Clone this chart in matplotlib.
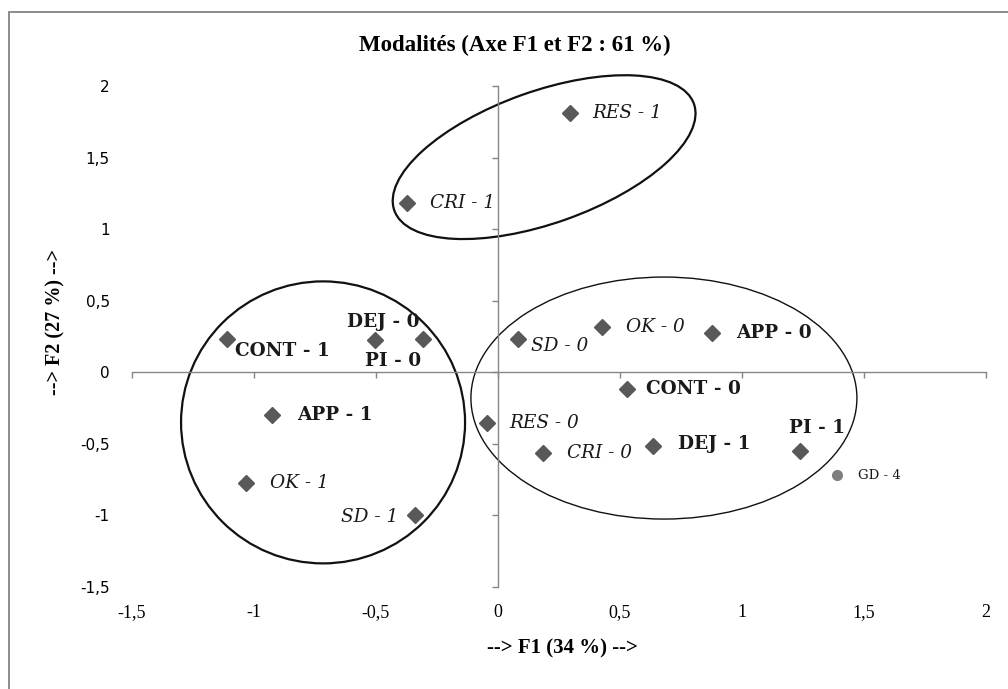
import matplotlib
matplotlib.use("Agg")
import matplotlib.pyplot as plt
from matplotlib.patches import Ellipse, Rectangle
from matplotlib.transforms import ScaledTranslation

# ---- data (ACM coordinates) ----
names = ["RES - 1", "CRI - 1", "CONT - 1", "DEJ - 0", "PI - 0", "APP - 1", "OK - 1", "SD - 1",
         "SD - 0", "OK - 0", "APP - 0", "CONT - 0", "RES - 0", "CRI - 0", "DEJ - 1", "PI - 1"]
f1 = [0.295, -0.374, -1.112, -0.504, -0.306, -0.927, -1.033, -0.340,
      0.083, 0.425, 0.878, 0.530, -0.046, 0.183, 0.634, 1.238]
f2 = [1.811, 1.182, 0.236, 0.224, 0.236, -0.301, -0.774, -1.000,
      0.236, 0.313, 0.275, -0.114, -0.355, -0.564, -0.517, -0.552]

sup_name = "GD - 4"
sup_f1 = [1.388]
sup_f2 = [-0.720]

tick_vals = [-1.5, -1, -0.5, 0, 0.5, 1, 1.5, 2]
tick_labels = ["-1,5", "-1", "-0,5", "0", "0,5", "1", "1,5", "2"]

# ---- label styling / placement (offset in px, alignment, style) ----
label_style = {
    "RES - 1": ((22, 0), "left", "italic"),
    "CRI - 1": ((23, 0), "left", "italic"),
    "CONT - 1": ((8, -12), "left", "bold"),
    "DEJ - 0": ((8, 18), "center", "bold"),
    "PI - 0": ((-30, -22), "center", "bold"),
    "APP - 1": ((25, 0), "left", "bold"),
    "OK - 1": ((24, 0), "left", "italic"),
    "SD - 1": ((-17, -2), "right", "italic"),
    "SD - 0": ((13, -7), "left", "italic"),
    "OK - 0": ((24, 0), "left", "italic"),
    "APP - 0": ((24, 0), "left", "bold"),
    "CONT - 0": ((19, 0), "left", "bold"),
    "RES - 0": ((23, 0), "left", "italic"),
    "CRI - 0": ((24, 0), "left", "italic"),
    "DEJ - 1": ((25, 2), "left", "bold"),
    "PI - 1": ((17, 23), "center", "bold"),
}

# ellipses: centre (data), width/height (inches), angle (deg), line width
groups = [((0.189, 1.503), 3.18, 1.32, 19.6, 1.6),
          ((-0.717, -0.350), 2.84, 2.82, 0, 1.6),
          ((0.680, -0.180), 3.86, 2.42, 0, 1.0)]

GRAY = "#868686"
PT = 0.72  # px -> pt at 100 dpi

fig = plt.figure(figsize=(10.08, 6.89), dpi=100)
fig.patches.append(Rectangle((9 / 1008, -0.1), 1.1, 0.1 + 1 - 12 / 689, transform=fig.transFigure,
                             fill=False, ec="#8c8c8c", lw=1.4, zorder=0))
ax = fig.add_axes([132 / 1008, 1 - 587 / 689, 854 / 1008, 501 / 689])
ax.set_xlim(-1.5, 2)
ax.set_ylim(-1.5, 2)
ax.patch.set_alpha(0)

for s in ("top", "right"):
    ax.spines[s].set_visible(False)
ax.spines["left"].set_position(("data", 0))
ax.spines["bottom"].set_position(("data", 0))
for s in ("left", "bottom"):
    ax.spines[s].set_color(GRAY)
    ax.spines[s].set_linewidth(1.0)
ax.set_xticks(tick_vals)
ax.set_yticks(tick_vals)
ax.tick_params(direction="out", length=4, width=1, color=GRAY,
               labelleft=False, labelbottom=False)

# tick labels at the frame edges (Excel "low" labels)
sx = ax.secondary_xaxis(0)
sx.set_xticks(tick_vals, tick_labels)
sx.tick_params(length=0, pad=12, labelsize=13)
for t in sx.get_xticklabels():
    t.set_family("Liberation Serif")
sx.spines["bottom"].set_visible(False)
sy = ax.secondary_yaxis(0)
sy.set_yticks(tick_vals, tick_labels)
sy.tick_params(length=0, pad=16, labelsize=11)
sy.spines["left"].set_visible(False)

ax.plot(f1, f2, "D", ms=8.5, color="#595959", mec="#595959", zorder=3)
ax.plot(sup_f1, sup_f2, "o", ms=7, color="#7f7f7f", zorder=3)

for n, x, y in zip(names, f1, f2):
    (dx, dy), ha, sty = label_style[n]
    kw = dict(fontweight="bold") if sty == "bold" else dict(fontstyle="italic")
    ax.annotate(n, (x, y), xytext=(dx * PT, dy * PT), textcoords="offset points",
                ha=ha, va="center", fontsize=13.3, family="DejaVu Serif",
                color="#1a1a1a", **kw)
ax.annotate(sup_name, (sup_f1[0], sup_f2[0]), xytext=(21 * PT, 0), textcoords="offset points",
            ha="left", va="center", fontsize=9.5, family="DejaVu Serif", color="#1a1a1a")

for (cx, cy), w, h, ang, lw in groups:
    tr = fig.dpi_scale_trans + ScaledTranslation(cx, cy, ax.transData)
    ax.add_patch(Ellipse((0, 0), w, h, angle=ang, transform=tr, fill=False,
                         ec="#111111", lw=lw, clip_on=False, zorder=2))

fig.text(515 / 1008, 1 - 45 / 689, "Modalités (Axe F1 et F2 : 61 %)", ha="center", va="center",
         fontsize=16.5, fontweight="bold", family="Liberation Serif")
fig.text(562 / 1008, 1 - 648 / 689, "--> F1 (34 %) -->", ha="center", va="center",
         fontsize=15, fontweight="bold", family="Liberation Serif")
fig.text(55 / 1008, 1 - 322 / 689, "--> F2 (27 %) -->", ha="center", va="center", rotation=90,
         fontsize=14.5, fontweight="bold", family="Liberation Serif")

fig.savefig("out.png", dpi=100)
